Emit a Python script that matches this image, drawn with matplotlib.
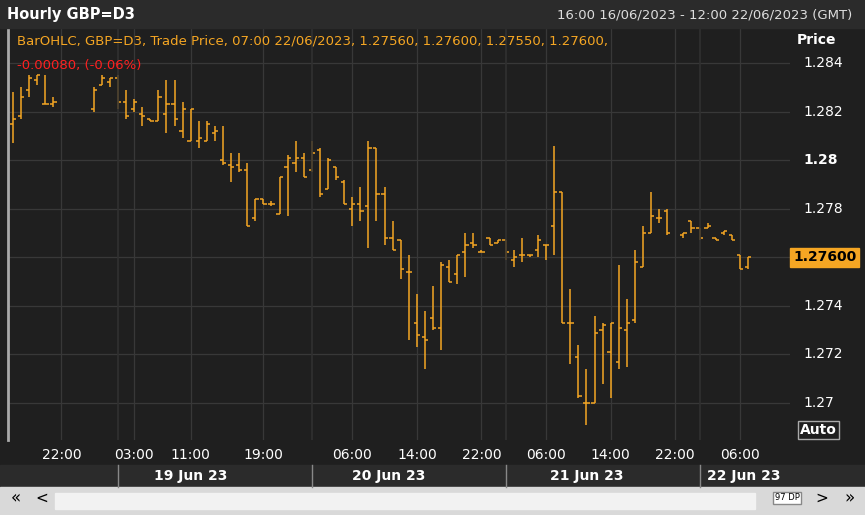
import numpy as np
import matplotlib.pyplot as plt
from matplotlib.collections import LineCollection
from matplotlib.patches import Rectangle

# OHLC hourly bars in pips (price * 10000); None = no bar in that slot
bars = [
    (12815, 12828, 12807, 12817), (12818, 12830, 12817, 12826), (12829, 12835, 12826, 12834),
    (12833, 12835, 12831, 12835), (12823, 12835, 12823, 12823), (12823, 12826, 12822, 12824),
    None, None, None, None,
    (12821, 12830, 12820, 12829), (12831, 12835, 12831, 12834), (12832, 12834, 12830, 12834),
    (12834, 12835, 12821, 12824), (12824, 12829, 12817, 12818), (12821, 12825, 12820, 12824),
    (12819, 12822, 12814, 12818), (12817, 12817, 12816, 12816), (12816, 12829, 12816, 12826),
    (12819, 12833, 12811, 12823), (12823, 12833, 12814, 12817), (12812, 12824, 12809, 12821),
    (12808, 12821, 12808, 12821), (12808, 12816, 12805, 12809), (12808, 12816, 12808, 12815),
    (12811, 12814, 12808, 12812), (12800, 12814, 12798, 12799), (12798, 12803, 12791, 12797),
    (12798, 12803, 12795, 12796), (12796, 12799, 12773, 12773), (12776, 12784, 12775, 12784),
    (12784, 12784, 12782, 12782), (12782, 12783, 12781, 12782), (12778, 12793, 12778, 12793),
    (12797, 12802, 12777, 12801), (12799, 12808, 12795, 12801), (12801, 12803, 12793, 12793),
    (12796, 12808, 12795, 12803), (12804, 12805, 12785, 12786), (12788, 12801, 12788, 12800),
    (12797, 12797, 12792, 12793), (12791, 12792, 12782, 12782), (12780, 12785, 12773, 12782),
    (12782, 12789, 12775, 12779), (12781, 12808, 12764, 12805), (12805, 12805, 12775, 12786),
    (12786, 12789, 12765, 12768), (12768, 12775, 12763, 12763), (12767, 12767, 12751, 12755),
    (12754, 12761, 12726, 12754), (12733, 12745, 12723, 12728), (12727, 12738, 12714, 12726),
    (12735, 12748, 12730, 12731), (12731, 12758, 12722, 12757), (12756, 12759, 12750, 12750),
    (12753, 12761, 12749, 12761), (12762, 12770, 12752, 12765), (12766, 12770, 12764, 12765),
    (12762, 12763, 12762, 12762), (12768, 12768, 12765, 12765), (12766, 12767, 12766, 12767),
    (12767, 12767, 12759, 12762), (12759, 12763, 12756, 12760), (12761, 12768, 12758, 12761),
    (12761, 12761, 12760, 12761), (12763, 12769, 12760, 12767), (12765, 12765, 12759, 12765),
    (12773, 12806, 12761, 12787), (12787, 12787, 12733, 12733), (12733, 12747, 12716, 12733),
    (12719, 12724, 12702, 12703), (12700, 12714, 12691, 12700), (12700, 12736, 12700, 12729),
    (12730, 12733, 12708, 12732), (12721, 12733, 12702, 12733), (12717, 12757, 12714, 12731),
    (12730, 12743, 12715, 12733), (12734, 12763, 12733, 12758), (12756, 12773, 12756, 12770),
    (12770, 12787, 12770, 12777), (12776, 12780, 12774, 12776), (12779, 12780, 12769, 12770),
    None,
    (12769, 12770, 12768, 12770), (12775, 12775, 12770, 12772), (12772, 12772, 12767, 12768),
    (12772, 12774, 12772, 12773), (12768, 12768, 12767, 12767), (12770, 12771, 12769, 12771),
    (12769, 12769, 12767, 12767), (12761, 12761, 12755, 12755), (12756, 12760, 12755, 12760),
]

time_pos = [6, 15, 22, 31, 42, 50, 58, 66, 74, 82, 90]
time_labels = ['22:00', '03:00', '11:00', '19:00', '06:00', '14:00', '22:00', '06:00', '14:00', '22:00', '06:00']
day_sep = [13, 37, 61, 85]
day_labels = ['19 Jun 23', '20 Jun 23', '21 Jun 23', '22 Jun 23']
day_label_pos = [22, 46.5, 71, 90.5]
price_ticks = [1.270, 1.272, 1.274, 1.276, 1.278, 1.280, 1.282, 1.284]
price_labels = ['1.27', '1.272', '1.274', '', '1.278', '1.28', '1.282', '1.284']
last_price = 1.27600

orange = '#f5a623'
bg = '#1f1f1f'
W, H = 865, 515
fig = plt.figure(figsize=(W / 100, H / 100), dpi=100, facecolor=bg)

def fx(px):
    return px / W

def fy(py):
    return 1 - py / H

# header strip
fig.patches.append(Rectangle((0, fy(28)), 1, 28 / H, transform=fig.transFigure, color='#2b2b2b'))
fig.text(fx(7), fy(15), 'Hourly GBP=D3', color='white', fontsize=10.5, fontweight='bold', va='center')
fig.text(fx(852), fy(15), '16:00 16/06/2023 - 12:00 22/06/2023 (GMT)', color='#dddddd', fontsize=9.5,
         va='center', ha='right')

ax = fig.add_axes([fx(8), fy(440), fx(790 - 8), (440 - 28) / H])
ax.set_facecolor(bg)
for s in ax.spines.values():
    s.set_visible(False)
ax.spines['left'].set_visible(True)
ax.spines['left'].set_color('#aaaaaa')
ax.spines['left'].set_linewidth(2)

segs = []
for i, b in enumerate(bars):
    if b is None:
        continue
    o, h, l, c = [v / 10000 for v in b]
    segs.append([(i, l), (i, h)])
    segs.append([(i - 0.4, o), (i, o)])
    segs.append([(i, c), (i + 0.4, c)])
ax.add_collection(LineCollection(segs, colors=orange, linewidths=1.1))

ax.set_xlim(-0.62, 96.2)
ax.set_ylim(1.270 - 37 / 24300, 1.284 + 35 / 24300)
ax.set_xticks(time_pos)
ax.set_yticks(price_ticks)
ax.grid(True, color='#383838', linewidth=0.9)
ax.tick_params(length=0, labelbottom=False, labelleft=False)
for d in day_sep:
    ax.axvline(d, color='#303030', linewidth=1.2)

ax.text(0.012, 0.985, 'BarOHLC, GBP=D3, Trade Price, 07:00 22/06/2023, 1.27560, 1.27600, 1.27550, 1.27600,',
        transform=ax.transAxes, color=orange, fontsize=9.5, va='top')
ax.text(0.012, 0.925, '-0.00080, (-0.06%)', transform=ax.transAxes, color='#ff2020', fontsize=9.5, va='top')

# right price axis
fig.text(fx(797), fy(40), 'Price', color='white', fontsize=10, fontweight='bold', va='center')
for p, lab in zip(price_ticks, price_labels):
    yy = ax.transData.transform((0, p))[1] / fig.bbox.height
    fig.text(fx(803), yy, lab, color='white', fontsize=10,
             fontweight='bold' if lab == '1.28' else 'normal', va='center')
yy = ax.transData.transform((0, last_price))[1] / fig.bbox.height
fig.text(fx(793), yy, f'{last_price:.5f}', color='black', fontsize=10, fontweight='bold', va='center',
         bbox=dict(boxstyle='square,pad=0.2', fc=orange, ec=orange))
fig.text(fx(800), fy(430), 'Auto', color='white', fontsize=10, fontweight='bold', va='center',
         bbox=dict(boxstyle='square,pad=0.15', fc=bg, ec='#aaaaaa'))

# time axis rows
fig.patches.append(Rectangle((0, fy(487)), 1, 22 / H, transform=fig.transFigure, color='#2b2b2b'))
for p, lab in zip(time_pos, time_labels):
    xx = ax.transData.transform((p, 0))[0] / fig.bbox.width
    fig.text(xx, fy(455), lab, color='white', fontsize=10, ha='center', va='center')
for d in day_sep:
    xx = ax.transData.transform((d, 0))[0] / fig.bbox.width
    fig.lines.append(plt.Line2D([xx, xx], [fy(487), fy(465)], transform=fig.transFigure,
                                color='#888888', linewidth=1))
for p, lab in zip(day_label_pos, day_labels):
    xx = ax.transData.transform((p, 0))[0] / fig.bbox.width
    fig.text(xx, fy(476), lab, color='white', fontsize=10, fontweight='bold', ha='center', va='center')

# scroll bar
fig.patches.append(Rectangle((0, 0), 1, 28 / H, transform=fig.transFigure, color='#d9d9d9'))
fig.patches.append(Rectangle((fx(55), fy(509)), fx(700), 16 / H, transform=fig.transFigure, color='#f2f2f2'))
fig.text(fx(16), fy(498), '«', color='black', fontsize=12, ha='center', va='center')
fig.text(fx(42), fy(498), '<', color='black', fontsize=11, ha='center', va='center')
fig.text(fx(787), fy(498), '97 DP', color='black', fontsize=6, ha='center', va='center',
         bbox=dict(boxstyle='square,pad=0.2', fc='white', ec='#888888'))
fig.text(fx(822), fy(498), '>', color='black', fontsize=11, ha='center', va='center')
fig.text(fx(850), fy(498), '»', color='black', fontsize=12, ha='center', va='center')

fig.savefig('out.png', dpi=100, facecolor=bg)
